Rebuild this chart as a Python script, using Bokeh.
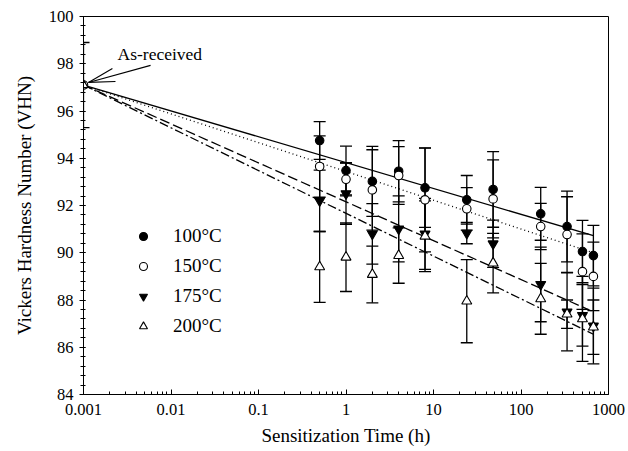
from bokeh.plotting import figure
from bokeh.models import (ColumnDataSource, Whisker, TeeHead, FixedTicker,
                          CustomJSTickFormatter, Legend, LegendItem, Label)
from bokeh.embed import file_html
from bokeh.resources import INLINE

# ---------------- data ----------------
times = [0.5, 1, 2, 4, 8, 24, 48, 168, 336, 504, 672]
temps = ["100°C", "150°C", "175°C", "200°C"]

vhn_100 = [94.75, 93.48, 93.02, 93.45, 92.75, 92.24, 92.68, 91.65, 91.11, 90.05, 89.88]
err_100 = [0.80, 1.03, 1.48, 1.30, 1.68, 1.03, 1.60, 1.12, 1.50, 1.32, 1.28]

vhn_150 = [93.65, 93.11, 92.66, 93.27, 92.24, 91.86, 92.28, 91.11, 90.77, 89.20, 89.00]
err_150 = [1.30, 0.70, 1.70, 1.22, 2.20, 0.90, 1.65, 0.98, 1.60, 1.60, 1.45]

vhn_175 = [92.20, 92.50, 90.80, 91.01, 90.80, 90.83, 90.38, 88.66, 87.50, 87.35, 86.90]
err_175 = [1.30, 1.30, 1.28, 1.40, 1.50, 0.45, 1.00, 1.58, 1.65, 1.30, 1.60]

vhn_200 = [89.40, 89.81, 89.08, 89.88, 90.70, 87.95, 89.56, 88.05, 87.40, 87.20, 86.85]
err_200 = [1.50, 1.45, 1.20, 1.17, 1.50, 1.76, 1.26, 1.50, 0.60, 1.80, 1.15]

asrec_time = [0.001]
asrec_vhn = [97.1]
asrec_err = [1.8]

fit_end_time = 672
fit_end_vhn = [90.72, 90.00, 87.50, 86.55]

x_ticks = [0.001, 0.01, 0.1, 1, 10, 100, 1000]
y_ticks = [84, 86, 88, 90, 92, 94, 96, 98, 100]

# ---------------- styles ----------------
FONT = "'Liberation Serif', 'Times New Roman', serif"
series = [
    (vhn_100, err_100, "circle", "black", 8.5, "solid"),
    (vhn_150, err_150, "circle", "white", 8.5, "1 3"),
    (vhn_175, err_175, "inverted_triangle", "black", 10, "10 4"),
    (vhn_200, err_200, "triangle", "white", 10, "9 3 2 3"),
]

p = figure(width=628, height=451, x_axis_type="log",
           x_range=(0.001, 1000), y_range=(84, 100),
           output_backend="svg", toolbar_location=None,
           min_border_left=83, min_border_right=20,
           min_border_top=16, min_border_bottom=57)
p.grid.visible = False
p.outline_line_color = "black"
p.outline_line_width = 1
p.background_fill_color = "white"
p.border_fill_color = "white"

# axes
minor_x = [m * 10.0 ** e for e in range(-3, 3) for m in range(2, 10)]
p.xaxis.ticker = FixedTicker(ticks=x_ticks, minor_ticks=minor_x)
p.xaxis.formatter = CustomJSTickFormatter(code="return tick.toString();")
minor_y = [84 + 0.4 * i for i in range(41)]
p.yaxis.ticker = FixedTicker(ticks=y_ticks, minor_ticks=minor_y)

for ax in (p.xaxis[0], p.yaxis[0]):
    ax.axis_line_color = "black"
    ax.major_tick_line_color = "black"
    ax.minor_tick_line_color = "black"
    ax.major_label_text_font = FONT
    ax.major_label_text_font_size = "16.5px"
    ax.major_label_text_color = "black"
    ax.axis_label_text_font = FONT
    ax.axis_label_text_font_size = "19px"
    ax.axis_label_text_font_style = "normal"
    ax.axis_label_text_color = "black"

p.xaxis.major_tick_in = 5
p.xaxis.major_tick_out = 0
p.xaxis.minor_tick_in = 3
p.xaxis.minor_tick_out = 0
p.xaxis.major_label_standoff = 9
p.xaxis.axis_label_standoff = 7
p.xaxis.axis_label = "Sensitization Time (h)"

p.yaxis.major_tick_in = 2
p.yaxis.major_tick_out = 4
p.yaxis.minor_tick_in = 2
p.yaxis.minor_tick_out = 3
p.yaxis.major_label_standoff = 6
p.yaxis.axis_label_standoff = 11
p.yaxis.axis_label = "Vickers Hardness Number (VHN)"

# error bars
def add_whisker(xs, ys, es):
    src = ColumnDataSource(dict(t=xs,
                                u=[y + e for y, e in zip(ys, es)],
                                l=[y - e for y, e in zip(ys, es)]))
    w = Whisker(source=src, base="t", upper="u", lower="l", dimension="height",
                line_color="black", line_width=1.3,
                upper_head=TeeHead(size=12, line_color="black", line_width=1.3),
                lower_head=TeeHead(size=12, line_color="black", line_width=1.3))
    p.add_layout(w)

for ys, es, *_ in series:
    add_whisker(times, ys, es)
add_whisker(asrec_time, asrec_vhn, asrec_err)

# fit lines
for (ys, es, mk, fc, sz, dash), yend in zip(series, fit_end_vhn):
    p.line([asrec_time[0], fit_end_time], [asrec_vhn[0], yend],
           line_color="black", line_width=1.3, line_dash=dash)

# markers
renderers = []
for ys, es, mk, fc, sz, dash in series:
    r = p.scatter(times, ys, marker=mk, size=sz, fill_color=fc,
                  line_color="black", line_width=1.1)
    renderers.append(r)

# as-received marker (open circle with open triangle)
p.scatter(asrec_time, asrec_vhn, marker="circle", size=8.5, fill_color="white",
          line_color="black", line_width=1.1)
p.scatter(asrec_time, asrec_vhn, marker="triangle", size=9, fill_color="white",
          line_color="black", line_width=1.1)

# annotation "As-received" with open arrow
p.add_layout(Label(x=0.00245, y=98.43, text="As-received", text_font=FONT,
                   text_font_size="17.5px", text_baseline="middle",
                   text_color="black"))
tip_x, tip_y = 0.00114, 97.21
p.segment(x0=[tip_x, tip_x, tip_x], y0=[tip_y, tip_y, tip_y],
          x1=[0.00584, 0.00214, 0.00232], y1=[97.93, 97.80, 97.25],
          line_color="black", line_width=1.1)

# legend
legend = Legend(items=[LegendItem(label=t, renderers=[r]) for t, r in zip(temps, renderers)],
                location=(50, 57), orientation="vertical",
                glyph_width=20, glyph_height=20, label_height=20, spacing=8,
                padding=0, margin=0, label_standoff=20,
                border_line_alpha=0, background_fill_alpha=0,
                label_text_font=FONT, label_text_font_size="19px",
                label_text_color="black")
p.add_layout(legend)

open("out.html", "w").write(file_html(p, INLINE))
